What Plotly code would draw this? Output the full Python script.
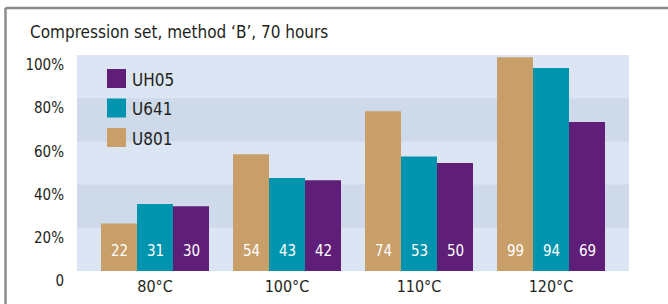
import plotly.graph_objects as go

categories = ["80°C", "100°C", "110°C", "120°C"]
series_names = ["U801", "U641", "UH05"]
u801 = [22, 54, 74, 99]
u641 = [31, 43, 53, 94]
uh05 = [30, 42, 50, 69]
y_tickvals = [0, 20, 40, 60, 80, 100]
y_ticktext = ["0", "20%", "40%", "60%", "80%", "100%"]
title_text = "Compression set, method ‘B’, 70 hours"

colors = {"U801": "#C89E69", "U641": "#0094AE", "UH05": "#5F1E77"}
values = {"U801": u801, "U641": u641, "UH05": uh05}

W, H = 668, 304
ML, MR, MT, MB = 77, 39, 55, 33
PW, PH = W - ML - MR, H - MT - MB
FONT = "DejaVu Sans Condensed, Roboto, sans-serif"
TXT = "#231F20"


def px_x(x):
    return (x - ML) / PW


def px_y(y):
    return (H - MB - y) / PH


fig = go.Figure()
for name in series_names:
    fig.add_trace(go.Bar(
        x=categories, y=values[name], name=name,
        marker=dict(color=colors[name], line=dict(width=0)),
        showlegend=False,
    ))

# value labels inside bars near the bottom
shifts = [-36, 0, 36]
annotations = []
for s, name in zip(shifts, series_names):
    for c, v in zip(categories, values[name]):
        annotations.append(dict(
            x=c, y=10, xref="x", yref="y", text=str(v), showarrow=False,
            xshift=s, yshift=-2, font=dict(family=FONT, size=15, color="white"),
            xanchor="center", yanchor="middle",
        ))

# manual legend (UH05 on top)
shapes = []
leg_tops = [69, 98.5, 128]
for top, name in zip(leg_tops, list(reversed(series_names))):
    shapes.append(dict(
        type="rect", xref="paper", yref="paper",
        x0=px_x(107), x1=px_x(126), y0=px_y(top + 19), y1=px_y(top),
        fillcolor=colors[name], line=dict(width=0), layer="above",
    ))
    annotations.append(dict(
        x=px_x(130), y=px_y(top + 10.5), xref="paper", yref="paper",
        text=name, showarrow=False, xanchor="left", yanchor="middle",
        font=dict(family=FONT, size=17, color=TXT),
    ))

# darker bands
for lo, hi in [(20, 40), (60, 80)]:
    shapes.append(dict(
        type="rect", xref="paper", yref="y", x0=0, x1=1, y0=lo, y1=hi,
        fillcolor="#CEDAEA", line=dict(width=0), layer="below",
    ))

# outer frame (top and left gray rules)
shapes.append(dict(type="line", xref="paper", yref="paper",
                   x0=px_x(5.5), x1=px_x(668), y0=px_y(8), y1=px_y(8),
                   line=dict(color="#8C8C8C", width=2.5)))
shapes.append(dict(type="line", xref="paper", yref="paper",
                   x0=px_x(5.5), x1=px_x(5.5), y0=px_y(8), y1=px_y(304),
                   line=dict(color="#8C8C8C", width=2.5)))

fig.update_layout(
    width=W, height=H,
    margin=dict(l=ML, r=MR, t=MT, b=MB, pad=0),
    paper_bgcolor="white", plot_bgcolor="#DCE5F4",
    barmode="group", bargap=24 / 132, bargroupgap=0,
    title=dict(text=title_text, x=30 / W, xanchor="left",
               y=1 - 32 / H, yanchor="middle", xref="container", yref="container",
               font=dict(family=FONT, size=17, color=TXT)),
    xaxis=dict(range=[-78 / 132, 3 + 78 / 132], showgrid=False, zeroline=False,
               showline=False, ticks="", ticklabelstandoff=4, automargin=False,
               tickfont=dict(family=FONT, size=16, color=TXT)),
    yaxis=dict(range=[0, 100], tickvals=y_tickvals, ticktext=y_ticktext,
               showgrid=False, zeroline=False, showline=False, ticks="",
               ticklabelstandoff=12, ticklabelshift=10, automargin=False,
               tickfont=dict(family=FONT, size=15, color=TXT)),
    annotations=annotations, shapes=shapes,
)

fig.write_html("out.html", config={"displayModeBar": False},
               post_script="document.body.style.margin='0';")
